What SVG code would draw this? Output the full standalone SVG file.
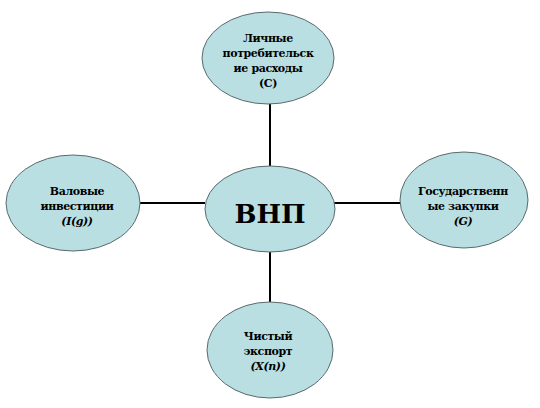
<svg xmlns="http://www.w3.org/2000/svg" width="540" height="408" viewBox="0 0 540 408">
<style>
.node ellipse{fill:#b9dfe3;stroke:#5a6a6c;stroke-width:1}
.lbl{font-family:'DejaVu Serif',serif;font-weight:bold;font-size:11px;letter-spacing:-0.4px;fill:#000;text-anchor:middle}
.it{font-style:italic}
.big{font-family:'DejaVu Serif',serif;font-weight:bold;font-size:26px;fill:#000;text-anchor:middle}
.conn line{stroke:#000;stroke-width:2}
</style>
<rect width="540" height="408" fill="#fff"/>
<g id="connectors" class="conn">
<line x1="140" y1="203" x2="205" y2="203"/>
<line x1="334" y1="203" x2="400" y2="203"/>
<line x1="270" y1="103" x2="270" y2="167"/>
<line x1="270" y1="252" x2="270" y2="302"/>
</g>
<g id="node-c" class="node">
<ellipse cx="268" cy="58" rx="66" ry="46"/>
<text class="lbl" x="268" y="42">Личные</text>
<text class="lbl" x="268" y="57">потребительск</text>
<text class="lbl" x="268" y="72">ие расходы</text>
<text class="lbl" x="268" y="87">(C)</text>
</g>
<g id="node-ig" class="node">
<ellipse cx="73" cy="203" rx="67" ry="48"/>
<text class="lbl" x="77" y="195">Валовые</text>
<text class="lbl" x="77" y="210">инвестиции</text>
<text class="lbl it" x="77" y="225">(I(g))</text>
</g>
<g id="node-g" class="node">
<ellipse cx="464" cy="200" rx="64" ry="48"/>
<text class="lbl" x="463" y="195">Государственн</text>
<text class="lbl" x="463" y="210">ые закупки</text>
<text class="lbl it" x="463" y="225">(G)</text>
</g>
<g id="node-xn" class="node">
<ellipse cx="270" cy="350" rx="63" ry="48"/>
<text class="lbl" x="268" y="340">Чистый</text>
<text class="lbl" x="268" y="355">экспорт</text>
<text class="lbl it" x="268" y="370">(X(n))</text>
</g>
<g id="node-gnp" class="node">
<ellipse cx="270" cy="209" rx="65" ry="43"/>
<text class="big" x="270" y="223">ВНП</text>
</g>
</svg>
